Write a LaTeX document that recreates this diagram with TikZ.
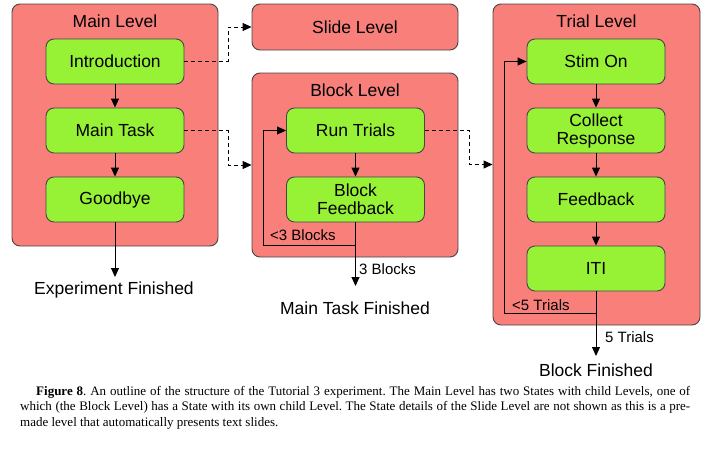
\documentclass[tikz,border=0pt]{standalone}
\usepackage{fontspec}
\setmainfont{Liberation Serif}
\newfontfamily\arialf{Liberation Sans}
\usetikzlibrary{arrows.meta,positioning}
\definecolor{lvlred}{RGB}{249,127,122}
\definecolor{stgreen}{RGB}{151,242,54}
\definecolor{edgegray}{RGB}{70,70,70}
\tikzset{
  lvl/.style={draw=edgegray, line width=0.9pt, fill=lvlred, rounded corners=8pt, inner sep=0pt},
  st/.style={draw=edgegray, line width=0.9pt, fill=stgreen, rounded corners=8pt, minimum width=138pt, minimum height=45pt, align=center, font=\arialf\fontsize{17.5}{20}\selectfont, inner sep=1pt},
  ttl/.style={font=\arialf\fontsize{17.5}{20}\selectfont, inner sep=0pt},
  lbl/.style={font=\arialf\fontsize{15}{17}\selectfont, inner sep=0pt, anchor=west},
  con/.style={line width=0.9pt, -{Triangle[length=9pt,width=8pt]}},
  dcon/.style={con, dash pattern=on 4pt off 3pt},
}
\begin{document}
\begin{tikzpicture}[x=1pt,y=-1pt]
\useasboundingbox (0,0) rectangle (704,450);
% levels
\node[lvl, minimum width=206pt, minimum height=242pt] (main) at (115,125) {};
\node[lvl, minimum width=206pt, minimum height=46pt] (slide) at (355,27) {};
\node[lvl, minimum width=206pt, minimum height=184pt] (block) at (355,165) {};
\node[lvl, minimum width=207pt, minimum height=321pt] (trial) at (596.5,164.5) {};
\node[ttl] (mainT) at (115,21) {Main Level};
\node[ttl] (slideT) at (355,27) {Slide Level};
\node[ttl] (blockT) at (355,90) {Block Level};
\node[ttl] (trialT) at (596.5,21) {Trial Level};
% states
\node[st] (intro) at (115,61.5) {Introduction};
\node[st] (mtask) at (115,130.5) {Main Task};
\node[st] (bye) at (115,199.5) {Goodbye};
\node[st] (run) at (355.5,130.5) {Run Trials};
\node[st] (bfb) at (355.5,199.5) {Block\\[-2pt]Feedback};
\node[st] (stim) at (596,61.5) {Stim On};
\node[st] (coll) at (596,130.5) {Collect\\[-2pt]Response};
\node[st] (fb) at (596,199.5) {Feedback};
\node[st] (iti) at (596,268.5) {ITI};
% end texts
\node[ttl] (expfin) at (114,290) {Experiment Finished};
\node[ttl] (mtfin) at (355,308) {Main Task Finished};
\node[ttl] (blfin) at (596,370) {Block Finished};
% coordinates
\coordinate (expend) at (115,277);
\coordinate (bloop) at (355.5,245);
\coordinate (bend) at (355.5,286);
\coordinate (tloop) at (596,313);
\coordinate (tend) at (596,356);
% connectors
\draw[con] (intro) -- (mtask);
\draw[con] (mtask) -- (bye);
\draw[con] (bye) -- (expend);
\draw[dcon] (intro.east) -- (228,61.5) |- (slide.west);
\draw[dcon] (mtask.east) -- (228,130.5) |- (block.west);
\draw[dcon] (run.east) -- (469,130.5) |- (trial.west);
\draw[con] (run) -- (bfb);
\draw[con] (bfb.south) -- (bloop) -| (263,130.5) -- (run.west);
\draw[con] (bfb.south) -- (bend);
\draw[con] (stim) -- (coll);
\draw[con] (coll) -- (fb);
\draw[con] (fb) -- (iti);
\draw[con] (iti.south) -- (tloop) -| (504,61.5) -- (stim.west);
\draw[con] (iti.south) -- (tend);
% labels
\node[lbl] (lb3) at (270,235) {<3 Blocks};
\node[lbl] (lb3b) at (359,269) {3 Blocks};
\node[lbl] (lt5) at (512,305) {<5 Trials};
\node[lbl] (lt5b) at (605,337) {5 Trials};
% caption
\node[anchor=north west, inner sep=0pt, text width=670pt, align=justify, font=\fontsize{13}{15.5}\selectfont] (cap) at (20,386)
{\frenchspacing\hspace*{16pt}\textbf{Figure 8}. An outline of the structure of the Tutorial 3 experiment. The Main Level has two States with child Levels, one of\linebreak which (the Block Level) has a State with its own child Level. The State details of the Slide Level are not shown as this is a pre-\linebreak made level that automatically presents text slides.};
\end{tikzpicture}
\end{document}
